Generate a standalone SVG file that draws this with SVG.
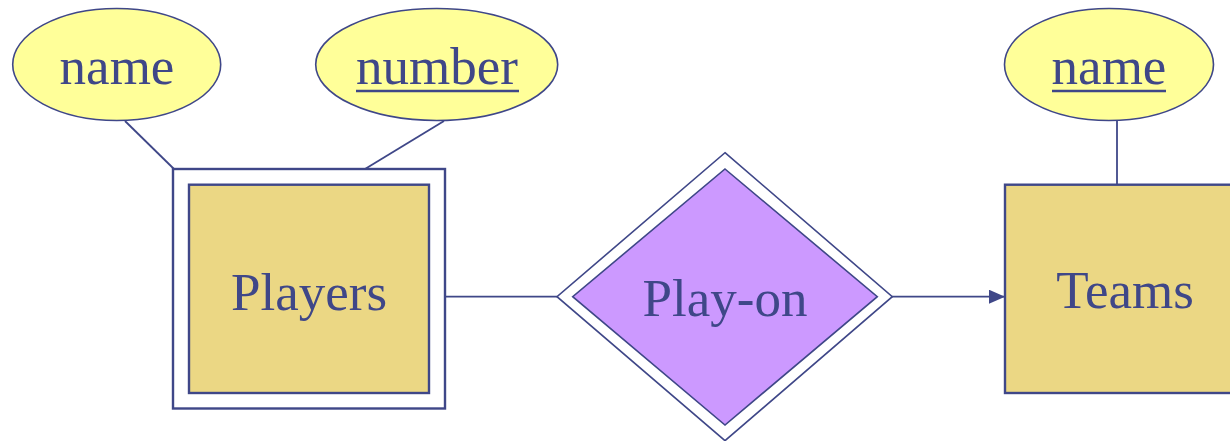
<svg xmlns="http://www.w3.org/2000/svg" width="1230" height="441" viewBox="0 0 1230 441">
  <defs>
    <marker id="arrow" viewBox="0 0 16 14" refX="16" refY="7" markerWidth="16" markerHeight="14" markerUnits="userSpaceOnUse" orient="auto">
      <path d="M0,0 L16,7 L0,14 Z" fill="#3F4788"/>
    </marker>
  </defs>
  <style>
    .attr { fill: #FFFF99; stroke: #3F4788; stroke-width: 1.6; }
    .entity { fill: #EBD784; stroke: #3F4788; stroke-width: 2.4; }
    .frame { fill: #FFFFFF; stroke: #3F4788; stroke-width: 2.4; }
    .rel { fill: #CC99FF; stroke: #3F4788; stroke-width: 1.6; }
    .relframe { fill: #FFFFFF; stroke: #3F4788; stroke-width: 1.6; }
    .edge { stroke: #3F4788; stroke-width: 1.8; fill: none; }
    .ul { stroke: #3F4788; stroke-width: 2.6; }
    text { font-family: "Liberation Serif", "Times New Roman", serif; font-size: 53px; fill: #3F4788; text-anchor: middle; }
  </style>
  <rect width="1230" height="441" fill="#FFFFFF"/>

  <g id="connectors">
    <line class="edge" x1="125" y1="121" x2="174" y2="169"/>
    <line class="edge" x1="444" y1="121" x2="365" y2="169"/>
    <line class="edge" x1="1117" y1="120" x2="1117" y2="184"/>
    <line class="edge" x1="445" y1="296.7" x2="557" y2="296.7"/>
    <line class="edge" x1="892" y1="296.7" x2="1005" y2="296.7" marker-end="url(#arrow)"/>
  </g>

  <g id="attr-player-name">
    <ellipse class="attr" cx="116.7" cy="64.5" rx="104" ry="56"/>
    <text x="117" y="84">name</text>
  </g>

  <g id="attr-player-number">
    <ellipse class="attr" cx="436.7" cy="64.5" rx="121" ry="56"/>
    <text x="437" y="84">number</text>
    <line class="ul" x1="356" y1="91" x2="519" y2="91"/>
  </g>

  <g id="attr-team-name">
    <ellipse class="attr" cx="1109" cy="64.5" rx="104.5" ry="56"/>
    <text x="1109" y="84">name</text>
    <line class="ul" x1="1052" y1="91" x2="1166" y2="91"/>
  </g>

  <g id="players">
    <rect class="frame" x="173" y="169" width="272" height="239.5"/>
    <rect class="entity" x="189" y="184.7" width="240" height="208.3"/>
    <text x="309" y="310">Players</text>
  </g>

  <g id="play-on">
    <polygon class="relframe" points="725,152.7 892.3,296.7 725,440.7 557,296.7"/>
    <polygon class="rel" points="725,169 877.3,296.7 725,425 572.7,296.7"/>
    <text x="725" y="315.7">Play-on</text>
  </g>

  <g id="teams">
    <rect class="entity" x="1005" y="184.7" width="240" height="208.3"/>
    <text x="1125" y="308">Teams</text>
  </g>
</svg>
